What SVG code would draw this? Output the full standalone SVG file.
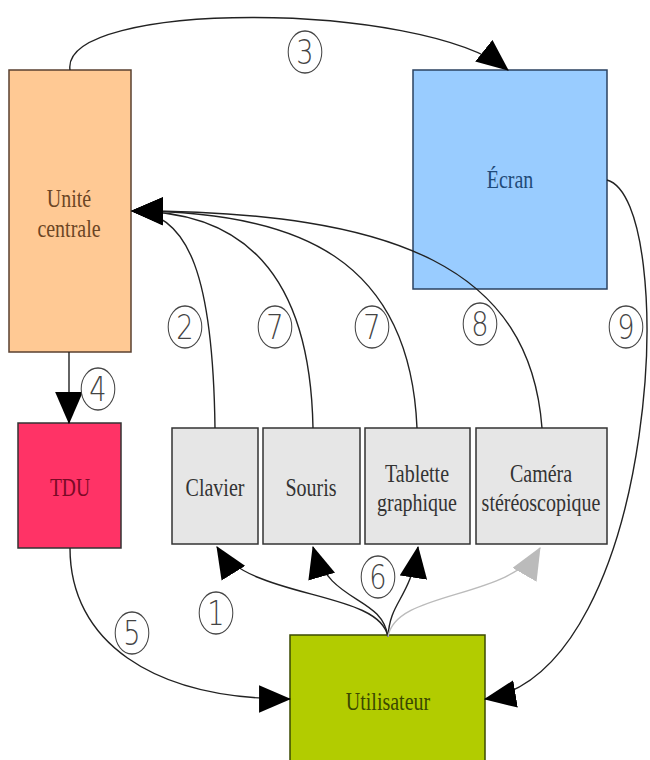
<svg xmlns="http://www.w3.org/2000/svg" width="650" height="760" viewBox="0 0 650 760">
  <style>
    .box { stroke: #333; stroke-width: 1.5; }
    .lbl { font-family: "Liberation Serif", "Times New Roman", serif; font-size: 25px; text-anchor: middle; }
    .wire { fill: none; stroke: #222; stroke-width: 1.4; }
    .wire.soft { stroke: #bbb; }
    .badge circle { fill: #fff; stroke: #444; stroke-width: 1.3; }
    .badge text { font-family: "DejaVu Sans", sans-serif; font-size: 34px; fill: #444; text-anchor: middle; font-weight: 300; }
  </style>
  <defs>
    <marker id="ah" markerUnits="userSpaceOnUse" markerWidth="32" markerHeight="28" viewBox="0 0 30 26" refX="29" refY="13" orient="auto">
      <path d="M0,0 L30,13 L0,26 z" fill="#000"/>
    </marker>
    <marker id="ah-soft" markerUnits="userSpaceOnUse" markerWidth="32" markerHeight="28" viewBox="0 0 30 26" refX="29" refY="13" orient="auto">
      <path d="M0,0 L30,13 L0,26 z" fill="#bbb"/>
    </marker>
  </defs>

  <rect width="650" height="760" fill="#fff"/>

  <!-- nodes -->
  <g id="unite-centrale">
    <rect class="box" x="9" y="70" width="122" height="282" fill="#FFC994" style="stroke:#5a4030"/>
    <text class="lbl" fill="#6b4524" transform="translate(69,207) scale(0.8,1)"><tspan x="0" y="0">Unité</tspan><tspan x="0" y="30">centrale</tspan></text>
  </g>
  <g id="ecran">
    <rect class="box" x="413" y="70" width="194" height="219" fill="#99CCFF" style="stroke:#2b4260"/>
    <text class="lbl" fill="#1f4a78" transform="translate(510,188) scale(0.8,1)">Écran</text>
  </g>
  <g id="tdu">
    <rect class="box" x="18" y="423" width="103" height="125" fill="#FF3366"/>
    <text class="lbl" fill="#7a0a26" transform="translate(70,496) scale(0.78,1)">TDU</text>
  </g>
  <g id="clavier">
    <rect class="box" x="172" y="428" width="86" height="116" fill="#E6E6E6"/>
    <text class="lbl" fill="#333" transform="translate(215,496) scale(0.8,1)">Clavier</text>
  </g>
  <g id="souris">
    <rect class="box" x="263" y="428" width="97" height="116" fill="#E6E6E6"/>
    <text class="lbl" fill="#333" transform="translate(311,496) scale(0.8,1)">Souris</text>
  </g>
  <g id="tablette">
    <rect class="box" x="365" y="428" width="105" height="116" fill="#E6E6E6"/>
    <text class="lbl" fill="#333" transform="translate(417,482) scale(0.8,1)"><tspan x="0" y="0">Tablette</tspan><tspan x="0" y="29">graphique</tspan></text>
  </g>
  <g id="camera">
    <rect class="box" x="476" y="428" width="131" height="116" fill="#E6E6E6"/>
    <text class="lbl" fill="#333" transform="translate(541,482) scale(0.8,1)"><tspan x="0" y="0">Caméra</tspan><tspan x="0" y="29">stéréoscopique</tspan></text>
  </g>
  <g id="utilisateur">
    <rect class="box" x="290" y="635" width="195" height="140" fill="#B2CC00" style="stroke:#3b4a00"/>
    <text class="lbl" fill="#3a4800" transform="translate(388,710) scale(0.8,1)">Utilisateur</text>
  </g>

  <!-- connectors -->
  <g id="connectors">
    <path class="wire" d="M70,70 C60,0 420,0 508,70" marker-end="url(#ah)"/>
    <path class="wire" d="M215,428 C213,280 190,212 132,211" marker-end="url(#ah)"/>
    <path class="wire" d="M313,428 C310,270 240,211 132,211" marker-end="url(#ah)"/>
    <path class="wire" d="M417,428 C410,260 300,211 132,211" marker-end="url(#ah)"/>
    <path class="wire" d="M542,428 C530,270 400,211 132,211" marker-end="url(#ah)"/>
    <path class="wire" d="M69,352 L69,423" marker-end="url(#ah)"/>
    <path class="wire" d="M70,548 C70,640 150,699 290,699" marker-end="url(#ah)"/>
    <path class="wire" d="M607,180 C680,200 660,670 485,699" marker-end="url(#ah)"/>
    <path class="wire" d="M388,637 C380,590 250,600 217,547" marker-end="url(#ah)"/>
    <path class="wire" d="M388,637 C382,595 330,605 313,547" marker-end="url(#ah)"/>
    <path class="wire" d="M388,637 C390,600 410,600 418,547" marker-end="url(#ah)"/>
    <path class="wire soft" d="M388,637 C395,590 510,600 540,548" marker-end="url(#ah-soft)"/>
  </g>

  <!-- step numbers -->
  <g id="steps">
    <g class="badge" transform="translate(305,52) scale(0.8,1)"><circle r="21"/><text y="12">3</text></g>
    <g class="badge" transform="translate(185,327) scale(0.8,1)"><circle r="21"/><text y="12">2</text></g>
    <g class="badge" transform="translate(275,327) scale(0.8,1)"><circle r="21"/><text y="12">7</text></g>
    <g class="badge" transform="translate(372,327) scale(0.8,1)"><circle r="21"/><text y="12">7</text></g>
    <g class="badge" transform="translate(480,324) scale(0.8,1)"><circle r="21"/><text y="12">8</text></g>
    <g class="badge" transform="translate(626,327) scale(0.8,1)"><circle r="21"/><text y="12">9</text></g>
    <g class="badge" transform="translate(98,389) scale(0.8,1)"><circle r="21"/><text y="12">4</text></g>
    <g class="badge" transform="translate(132,633) scale(0.8,1)"><circle r="21"/><text y="12">5</text></g>
    <g class="badge" transform="translate(216,613) scale(0.8,1)"><circle r="21"/><text y="12">1</text></g>
    <g class="badge" transform="translate(378,577) scale(0.8,1)"><circle r="21"/><text y="12">6</text></g>
  </g>
</svg>
